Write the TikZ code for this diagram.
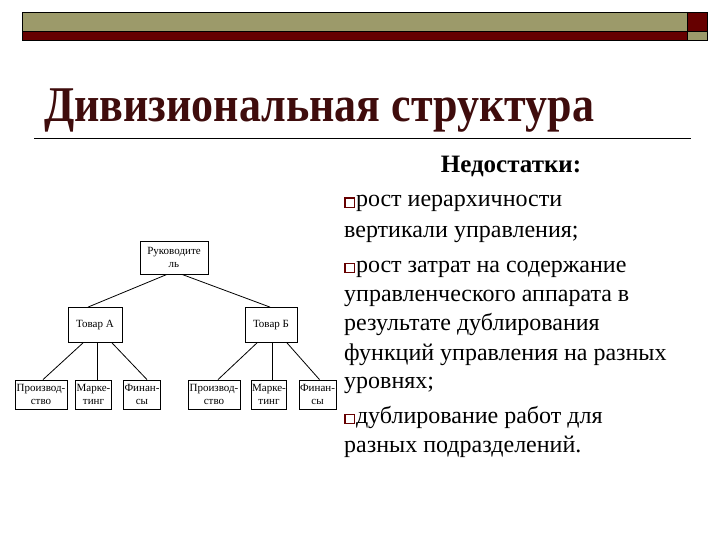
\documentclass[tikz,border=0pt]{standalone}
\usepackage{fontspec}
\setmainfont{Liberation Serif}
\definecolor{olive}{HTML}{9C9A6A}
\definecolor{barred}{HTML}{660000}
\definecolor{titlered}{HTML}{3F0C0C}
\newcommand\sqbul{{\color{barred}\fboxsep=0pt\fboxrule=1.3pt\fbox{\rule{0pt}{8.2pt}\hspace{8.2pt}}}\hspace{1pt}}
\tikzset{
  box/.style={draw, line width=0.8pt, inner sep=1pt, align=center, font=\fontsize{11}{13}\selectfont},
  link/.style={line width=0.8pt},
  txt/.style={anchor=base west, inner sep=0pt, font=\fontsize{24}{28}\selectfont}
}
\begin{document}
\begin{tikzpicture}[x=1pt,y=-1pt]
\useasboundingbox (0,0) rectangle (720,540);
% top bar
\fill[olive] (22,12) rectangle (687,31);
\fill[barred] (22,31) rectangle (687,40);
\fill[barred] (687,12) rectangle (707,31);
\fill[olive] (687,31) rectangle (707,40);
\draw[line width=0.8pt] (22,12) rectangle (707,40);
\draw[line width=0.6pt] (22,31) -- (707,31) (687,12) -- (687,40);
% title
\node[anchor=base west, inner sep=0pt, text=titlered] (title) at (44,122)
  {\scalebox{0.88}[1]{\fontsize{50}{55}\selectfont\bfseries Дивизиональная структура}};
\draw[line width=0.8pt] (34,138) -- (691,138);
% chart
\node[box, minimum width=68pt, minimum height=33pt] (r) at (174,257.5) {Руководите\\ль};
\node[box, minimum width=54pt, minimum height=35pt] (a) at (95,325) {Товар А};
\node[box, minimum width=52pt, minimum height=35pt] (b) at (271,325) {Товар Б};
\node[box, minimum width=52pt, minimum height=29pt] (pa) at (41,394.5) {Производ-\\ство};
\node[box, minimum width=34pt, minimum height=29pt] (ma) at (93.5,394.5) {Марке-\\тинг};
\node[box, minimum width=32pt, minimum height=29pt] (fa) at (142,394.5) {Финан-\\сы};
\node[box, minimum width=52pt, minimum height=29pt] (pb) at (214,394.5) {Производ-\\ство};
\node[box, minimum width=34pt, minimum height=29pt] (mb) at (269,394.5) {Марке-\\тинг};
\node[box, minimum width=35pt, minimum height=29pt] (fb) at (317.5,394.5) {Финан-\\сы};
\draw[link] ([xshift=-7pt]r.south) -- ([xshift=-7pt]a.north);
\draw[link] ([xshift=8pt]r.south) -- ([xshift=-1pt]b.north);
\draw[link] ([xshift=-12pt]a.south) -- ([xshift=2pt]pa.north);
\draw[link] ([xshift=2pt]a.south) -- ([xshift=2pt]a.south |- ma.north);
\draw[link] ([xshift=17pt]a.south) -- ([xshift=5pt]fa.north);
\draw[link] ([xshift=-14pt]b.south) -- ([xshift=4pt]pb.north);
\draw[link] ([xshift=1pt]b.south) -- ([xshift=1pt]b.south |- mb.north);
\draw[link] ([xshift=16pt]b.south) -- ([xshift=2pt]fb.north);
% right text
\node[anchor=base, inner sep=0pt, font=\fontsize{25}{28}\selectfont\bfseries] (h) at (511,173) {Недостатки:};
\node[txt] (l1) at (344,207) {\sqbul рост иерархичности};
\node[txt] (l2) at (344,237) {вертикали управления;};
\node[txt] (l3) at (344,272) {\sqbul рост затрат на содержание};
\node[txt] (l4) at (344,301) {управленческого аппарата в};
\node[txt] (l5) at (344,330) {результате дублирования};
\node[txt] (l6) at (344,360) {функций управления на разных};
\node[txt] (l7) at (344,388) {уровнях;};
\node[txt] (l8) at (344,423) {\sqbul дублирование работ для};
\node[txt] (l9) at (344,452) {разных подразделений.};
\end{tikzpicture}
\end{document}
